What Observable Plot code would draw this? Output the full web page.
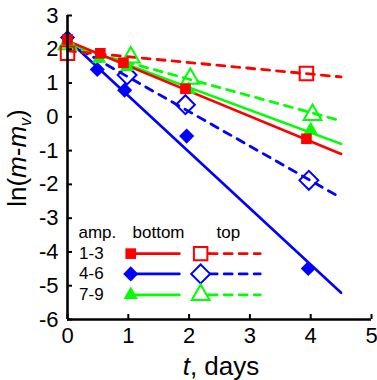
<!DOCTYPE html>
<html><head><meta charset="utf-8">
<script src="https://cdn.jsdelivr.net/npm/d3@7"></script>
<script src="https://cdn.jsdelivr.net/npm/@observablehq/plot@0.6"></script>
<style>body{margin:0;background:#fff} #chart{width:377px;height:380px}</style>
</head><body><div id="chart"></div>
<script>
// ---- data ----
const groups = ["1-3", "4-6", "7-9"];
const colors = ["#ff0000", "#0000ff", "#00ff00"];
const legendHeader = ["amp.", "bottom", "top"];
const xTicks = [0, 1, 2, 3, 4, 5];
const yTicks = [-6, -5, -4, -3, -2, -1, 0, 1, 2, 3];

// bottom (filled markers)
const bottomT = [
  [0, 0.54, 0.92, 1.94, 3.93],
  [0, 0.49, 0.94, 1.96, 3.96],
  [0, 0.52, 0.98, 1.99, 4.0]
];
const bottomV = [
  [2.29, 1.88, 1.60, 0.83, -0.65],
  [2.35, 1.40, 0.79, -0.57, -4.49],
  [2.20, 1.72, 1.48, 0.80, -0.39]
];
// top (open markers)
const topT = [
  [0, 3.93],
  [0.98, 1.94, 3.97],
  [0, 1.04, 2.02, 4.03]
];
const topV = [
  [1.88, 1.28],
  [1.24, 0.36, -1.88],
  [2.15, 1.76, 1.13, 0.06]
];
// fitted lines: values at t = fitT
const fitT = [0, 4.5];
const fitBottomV = [
  [2.25, -1.10],
  [2.29, -5.21],
  [2.20, -0.80]
];
const fitTopV = [
  [1.95, 1.18],
  [2.20, -2.40],
  [2.10, -0.12]
];

// ---- build marks ----
const fillSym = ["square", "diamond2", "triangle"];
const fillR = [6, 6.8, 5.3];
const openR = [7.6, 8.5, 6.6];

const marks = [];
const drawOrder = [1, 2, 0];
for (const i of drawOrder) {
  const fb = fitT.map((t, j) => ({t, v: fitBottomV[i][j]}));
  const ft = fitT.map((t, j) => ({t, v: fitTopV[i][j]}));
  marks.push(Plot.line(fb, {x: "t", y: "v", stroke: colors[i], strokeWidth: 2.6}));
  marks.push(Plot.line(ft, {x: "t", y: "v", stroke: colors[i], strokeWidth: 2.8, strokeDasharray: "8,7"}));
}
for (const i of drawOrder) {
  const tp = topT[i].map((t, j) => ({t, v: topV[i][j]}));
  const bp = bottomT[i].map((t, j) => ({t, v: bottomV[i][j]}));
  marks.push(Plot.dot(tp, {x: "t", y: "v", symbol: fillSym[i], r: openR[i], stroke: colors[i], strokeWidth: 2, fill: "none"}));
  marks.push(Plot.dot(bp, {x: "t", y: "v", symbol: fillSym[i], r: fillR[i], fill: colors[i], stroke: "none"}));
}

// legend (placed in data space, lower-left area)
const legRowV = [-4.05, -4.65, -5.27];
const legHeadV = -3.42;
marks.push(Plot.text(legendHeader.map((s, k) => ({s, t: [0.18, 1.07, 2.45][k]})),
  {x: "t", y: () => legHeadV, text: "s", textAnchor: "start", fontSize: 17, fill: "#000"}));
groups.forEach((g, i) => {
  const v = legRowV[i];
  marks.push(Plot.text([g], {x: () => 0.19, y: () => v, text: d => d, textAnchor: "start", fontSize: 17, fill: "#000"}));
  marks.push(Plot.line([{t: 1.04, v}, {t: 1.84, v}], {x: "t", y: "v", stroke: colors[i], strokeWidth: 2.6}));
  marks.push(Plot.line([{t: 2.19, v}, {t: 2.33, v}], {x: "t", y: "v", stroke: colors[i], strokeWidth: 2.6}));
  marks.push(Plot.line([{t: 2.33, v}, {t: 3.17, v}], {x: "t", y: "v", stroke: colors[i], strokeWidth: 2.8, strokeDasharray: "8,7"}));
  marks.push(Plot.dot([{t: 1.04, v}], {x: "t", y: "v", symbol: fillSym[i], r: fillR[i], fill: colors[i], stroke: "none"}));
  marks.push(Plot.dot([{t: 2.19, v}], {x: "t", y: "v", symbol: fillSym[i], r: openR[i], fill: "white", stroke: colors[i], strokeWidth: 2}));
});

const plot = Plot.plot({
  width: 377,
  height: 380,
  marginLeft: 67,
  marginRight: 6,
  marginTop: 15,
  marginBottom: 61,
  style: {fontFamily: "'Liberation Sans', Arial, sans-serif", background: "white"},
  x: {domain: [0, 5]},
  y: {domain: [-6, 3]},
  marks: [
    ...marks,
    Plot.ruleY([-6], {stroke: "#000", strokeWidth: 2.6}),
    Plot.ruleX([0], {stroke: "#000", strokeWidth: 2.6}),
    Plot.axisX({ticks: xTicks, tickFormat: d => String(d), tickSize: -5, tickPadding: 13, fontSize: 22, label: null, strokeWidth: 2, color: "#000"}),
    Plot.axisY({ticks: yTicks, tickFormat: d => String(d), tickSize: -5, tickPadding: 14, fontSize: 22, label: null, strokeWidth: 2, color: "#000"})
  ]
});

const svg = d3.select(plot);
const yl = svg.append("text")
  .attr("transform", "translate(26,158) rotate(-90)")
  .attr("text-anchor", "middle")
  .attr("font-size", 26)
  .attr("fill", "#000")
  .attr("font-family", "'Liberation Sans', Arial, sans-serif");
yl.append("tspan").text("ln(");
yl.append("tspan").attr("font-style", "italic").text("m");
yl.append("tspan").text("-");
yl.append("tspan").attr("font-style", "italic").text("m");
yl.append("tspan").attr("font-style", "italic").attr("font-size", 16).attr("dy", 5).text("v");
yl.append("tspan").attr("dy", -5).text(")");

const xl = svg.append("text")
  .attr("x", 221).attr("y", 375)
  .attr("text-anchor", "middle")
  .attr("font-size", 26)
  .attr("fill", "#000")
  .attr("font-family", "'Liberation Sans', Arial, sans-serif");
xl.append("tspan").attr("font-style", "italic").text("t");
xl.append("tspan").text(", days");

document.getElementById("chart").appendChild(plot);
</script></body></html>
